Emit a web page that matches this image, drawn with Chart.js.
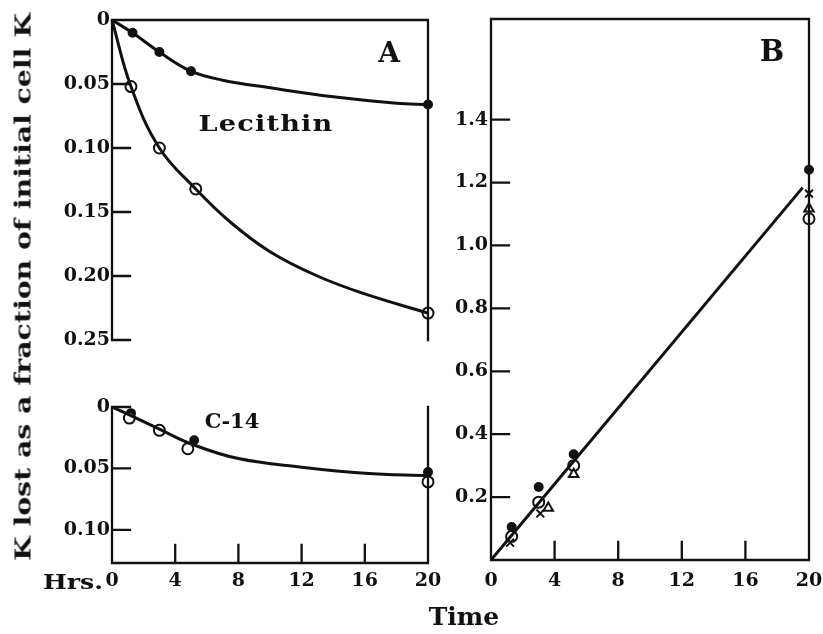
<!DOCTYPE html>
<html>
<head>
<meta charset="utf-8">
<script src="https://cdn.jsdelivr.net/npm/chart.js@4.4.1/dist/chart.umd.min.js"></script>
<style>
body { margin:0; background:#fff; width:823px; height:634px; overflow:hidden; position:relative;
       font-family:'DejaVu Serif', serif; font-weight:bold; color:#111; }
.box { position:absolute; }
.lbl { position:absolute; white-space:nowrap; line-height:1; transform:translate(-50%,-50%); }
</style>
</head>
<body>
<div class="box" style="left:0;top:0;width:445px;height:360px"><canvas id="aTop"></canvas></div>
<div class="box" style="left:0;top:380px;width:445px;height:254px"><canvas id="aLow"></canvas></div>
<div class="box" style="left:440px;top:0;width:383px;height:634px"><canvas id="bChart"></canvas></div>

<div class="lbl" style="left:22px;top:287px;font-size:23px;transform:translate(-50%,-50%) rotate(-90deg) scaleX(1.23)">K lost as a fraction of initial cell K</div>
<div class="lbl" style="left:266px;top:122px;font-size:23px;letter-spacing:1px;transform:translate(-50%,-50%) scaleX(1.18)">Lecithin</div>
<div class="lbl" style="left:232px;top:420px;font-size:21px">C-14</div>
<div class="lbl" style="left:389px;top:53px;font-size:28px">A</div>
<div class="lbl" style="left:772px;top:51px;font-size:29px">B</div>
<div class="lbl" style="left:73px;top:581px;font-size:21px;transform:translate(-50%,-50%) scaleX(1.2)">Hrs.</div>
<div class="lbl" style="left:464px;top:616px;font-size:25px">Time</div>

<script>
// ---- panel A, lecithin (top) ----
const lecFilledX = [1.3, 3, 5, 20];
const lecFilledY = [0.010, 0.025, 0.040, 0.066];
const lecOpenX = [1.2, 3, 5.3, 20];
const lecOpenY = [0.052, 0.100, 0.132, 0.229];
// fitted curves
const lecFilledCurveX = [0, 1.3, 3, 5, 7, 10, 14, 18, 20];
const lecFilledCurveY = [0, 0.010, 0.025, 0.040, 0.047, 0.053, 0.060, 0.065, 0.066];
const lecOpenCurveX = [0, 1.2, 3, 5.3, 7.5, 10, 13, 16, 20];
const lecOpenCurveY = [0, 0.052, 0.100, 0.132, 0.158, 0.181, 0.200, 0.214, 0.229];
const aTopTicks = [0, 0.05, 0.10, 0.15, 0.20, 0.25];
const aTopLabels = ['0', '0.05', '0.10', '0.15', '0.20', '0.25'];

// ---- panel A, C-14 (bottom) ----
const c14FilledX = [1.2, 3, 5.2, 20];
const c14FilledY = [0.005, 0.018, 0.027, 0.053];
const c14OpenX = [1.1, 3, 4.8, 20];
const c14OpenY = [0.009, 0.019, 0.034, 0.061];
const c14CurveX = [0, 1.2, 3, 5, 8, 12, 16, 20];
const c14CurveY = [0, 0.007, 0.018, 0.030, 0.042, 0.049, 0.054, 0.056];
const aLowTicks = [0, 0.05, 0.10];
const aLowLabels = ['0', '0.05', '0.10'];

// ---- panel B ----
const bFilledX = [1.3, 3, 5.2, 20];
const bFilledY = [0.105, 0.232, 0.336, 1.241];
const bOpenX = [1.3, 3, 5.2, 20];
const bOpenY = [0.075, 0.184, 0.300, 1.085];
const bTriX = [3.6, 5.2, 20];
const bTriY = [0.165, 0.273, 1.117];
const bCrossX = [1.2, 3.1, 20];
const bCrossY = [0.055, 0.148, 1.165];
const bLineX = [0, 19.6];
const bLineY = [0, 1.184];
const bTicks = [0, 0.2, 0.4, 0.6, 0.8, 1.0, 1.2, 1.4];
const bLabels = ['', '0.2', '0.4', '0.6', '0.8', '1.0', '1.2', '1.4'];

const hourTicks = [0, 4, 8, 12, 16, 20];
const hourLabels = ['0', '4', '8', '12', '16', '20'];

const INK = '#111';
const tickFont = { family: 'DejaVu Serif', weight: 'bold', size: 19 };

function pts(xs, ys) { return xs.map((x, i) => ({ x: x, y: ys[i] })); }

function curve(xs, ys) {
  return { type: 'line', data: pts(xs, ys), borderColor: INK, borderWidth: 3,
           pointRadius: 0, tension: 0.4, fill: false, clip: false };
}
function marks(xs, ys, style, fillCol, r) {
  return { type: 'scatter', data: pts(xs, ys), pointStyle: style, pointRadius: r,
           pointBackgroundColor: fillCol, pointBorderColor: INK, pointBorderWidth: 2, clip: false };
}

// axes frame + inward tick marks
const framePlugin = {
  id: 'frame',
  afterDatasetsDraw(chart, args, opts) {
    const { ctx, chartArea: a, scales } = chart;
    const s = opts.sides;
    const len = 18;
    ctx.save();
    ctx.strokeStyle = INK;
    ctx.lineWidth = 2.3;
    ctx.lineCap = 'square';
    ctx.beginPath();
    if (s.includes('top')) { ctx.moveTo(a.left, a.top); ctx.lineTo(a.right, a.top); }
    if (s.includes('left')) { ctx.moveTo(a.left, a.top); ctx.lineTo(a.left, a.bottom); }
    if (s.includes('right')) { ctx.moveTo(a.right, a.top); ctx.lineTo(a.right, a.bottom); }
    if (s.includes('bottom')) { ctx.moveTo(a.left, a.bottom); ctx.lineTo(a.right, a.bottom); }
    scales.y.ticks.forEach(t => {
      const py = scales.y.getPixelForValue(t.value);
      if (Math.abs(py - a.top) < 1 && s.includes('top')) return;
      if (Math.abs(py - a.bottom) < 1 && s.includes('bottom')) return;
      ctx.moveTo(a.left, py); ctx.lineTo(a.left + len, py);
    });
    if (scales.x.options.display) {
      scales.x.ticks.forEach(t => {
        const px = scales.x.getPixelForValue(t.value);
        if (Math.abs(px - a.left) < 1 || Math.abs(px - a.right) < 1) return;
        ctx.moveTo(px, a.bottom); ctx.lineTo(px, a.bottom - len);
      });
    }
    ctx.stroke();
    ctx.restore();
  }
};

function yScale(min, max, reverse, values, labels, width, pad) {
  return {
    type: 'linear', min: min, max: max, reverse: reverse,
    grid: { display: false, drawTicks: false }, border: { display: false },
    afterBuildTicks: sc => { sc.ticks = values.map(v => ({ value: v })); },
    afterFit: sc => { sc.width = width; sc.paddingTop = 0; sc.paddingBottom = 0; },
    ticks: { autoSkip: false, padding: pad, color: INK, font: tickFont,
             callback: (v, i) => labels[i] }
  };
}
function xScale(show, pad) {
  const sc = {
    type: 'linear', min: 0, max: 20, display: show,
    grid: { display: false, drawTicks: false }, border: { display: false },
    afterBuildTicks: s => { s.ticks = hourTicks.map(v => ({ value: v })); },
    ticks: { autoSkip: false, maxRotation: 0, padding: pad, color: INK, font: tickFont,
             callback: (v, i) => hourLabels[i] }
  };
  if (show) sc.afterFit = s => { s.height = 30; s.paddingLeft = 0; s.paddingRight = 0; };
  return sc;
}
function baseOptions(padding, sides) {
  return {
    responsive: true, maintainAspectRatio: false, animation: false,
    layout: { padding: padding },
    plugins: { legend: { display: false }, tooltip: { enabled: false }, frame: { sides: sides } },
    events: []
  };
}

const optTop = baseOptions({ top: 20, bottom: 20, left: 0, right: 17 }, ['top', 'left', 'right']);
optTop.scales = { x: xScale(false, 6), y: yScale(0, 0.25, true, aTopTicks, aTopLabels, 112, 2) };
new Chart(document.getElementById('aTop'), {
  type: 'scatter',
  data: { datasets: [
    curve(lecFilledCurveX, lecFilledCurveY),
    curve(lecOpenCurveX, lecOpenCurveY),
    marks(lecFilledX, lecFilledY, 'circle', INK, 4),
    marks(lecOpenX, lecOpenY, 'circle', '#fff', 5.5)
  ] },
  options: optTop,
  plugins: [framePlugin]
});

const optLow = baseOptions({ top: 27, bottom: 41, left: 0, right: 17 }, ['left', 'right', 'bottom']);
optLow.scales = { x: xScale(true, 7), y: yScale(0, 0.127, true, aLowTicks, aLowLabels, 112, 2) };
new Chart(document.getElementById('aLow'), {
  type: 'scatter',
  data: { datasets: [
    curve(c14CurveX, c14CurveY),
    marks(c14OpenX, c14OpenY, 'circle', '#fff', 5.5),
    marks(c14FilledX, c14FilledY, 'circle', INK, 4)
  ] },
  options: optLow,
  plugins: [framePlugin]
});

const optB = baseOptions({ top: 19, bottom: 44, left: 0, right: 14 }, ['top', 'left', 'right', 'bottom']);
optB.scales = { x: xScale(true, 10), y: yScale(0, 1.72, false, bTicks, bLabels, 51, 3) };
new Chart(document.getElementById('bChart'), {
  type: 'scatter',
  data: { datasets: [
    { type: 'line', data: pts(bLineX, bLineY), borderColor: INK, borderWidth: 3, pointRadius: 0, clip: false },
    marks(bTriX, bTriY, 'triangle', '#fff', 5.5),
    marks(bCrossX, bCrossY, 'crossRot', INK, 5.5),
    marks(bOpenX, bOpenY, 'circle', '#fff', 5.5),
    marks(bFilledX, bFilledY, 'circle', INK, 4)
  ] },
  options: optB,
  plugins: [framePlugin]
});
</script>
</body>
</html>
